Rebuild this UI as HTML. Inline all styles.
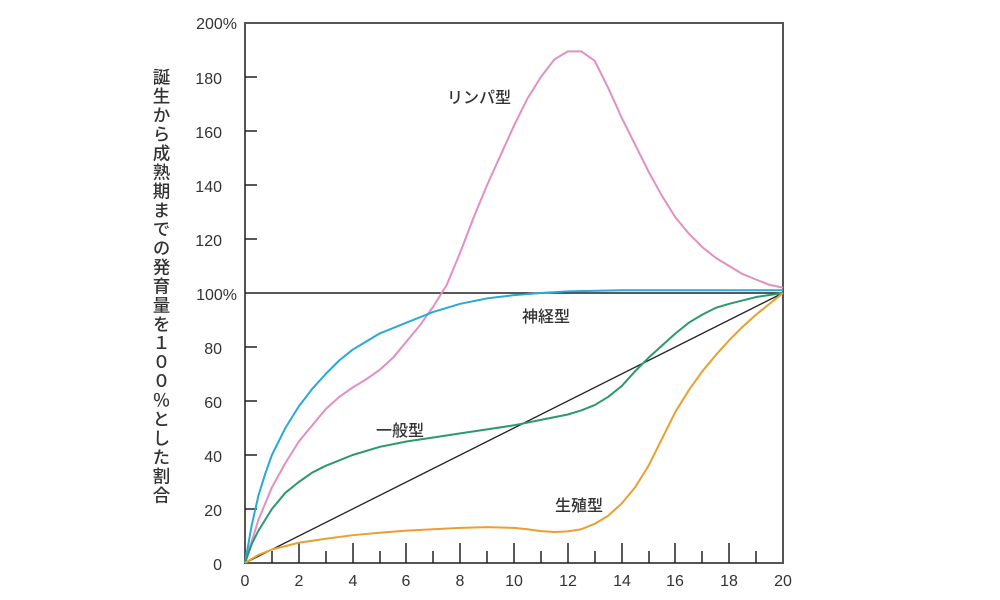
<!DOCTYPE html>
<html><head><meta charset="utf-8"><style>
body{margin:0;background:#fff;width:1000px;height:600px;overflow:hidden;position:relative;font-family:"Liberation Sans","Noto Sans CJK JP",sans-serif;}
svg{position:absolute;left:0;top:0}
.vl{position:absolute;left:151px;top:68px;writing-mode:vertical-rl;font-size:17.5px;line-height:20px;color:#333;letter-spacing:1.5px;font-family:"Noto Sans CJK JP",sans-serif;font-weight:500}
</style></head><body>
<svg width="1000" height="600" font-family="Liberation Sans, Noto Sans CJK JP, sans-serif">
<rect x="245" y="23" width="538" height="540" fill="none" stroke="#555" stroke-width="2"/>
<g stroke="#222" stroke-width="1.5">
<line x1="245" y1="509" x2="257" y2="509"/><line x1="245" y1="455" x2="257" y2="455"/><line x1="245" y1="401" x2="257" y2="401"/><line x1="245" y1="347" x2="257" y2="347"/><line x1="245" y1="239" x2="257" y2="239"/><line x1="245" y1="185" x2="257" y2="185"/><line x1="245" y1="131" x2="257" y2="131"/><line x1="245" y1="77" x2="257" y2="77"/>
</g>
<g stroke="#222" stroke-width="1.5">
<line x1="272" y1="563" x2="272" y2="551"/><line x1="299" y1="563" x2="299" y2="543"/><line x1="326" y1="563" x2="326" y2="551"/><line x1="353" y1="563" x2="353" y2="543"/><line x1="380" y1="563" x2="380" y2="551"/><line x1="406" y1="563" x2="406" y2="543"/><line x1="433" y1="563" x2="433" y2="551"/><line x1="460" y1="563" x2="460" y2="543"/><line x1="487" y1="563" x2="487" y2="551"/><line x1="514" y1="563" x2="514" y2="543"/><line x1="541" y1="563" x2="541" y2="551"/><line x1="568" y1="563" x2="568" y2="543"/><line x1="595" y1="563" x2="595" y2="551"/><line x1="622" y1="563" x2="622" y2="543"/><line x1="649" y1="563" x2="649" y2="551"/><line x1="675" y1="563" x2="675" y2="543"/><line x1="702" y1="563" x2="702" y2="551"/><line x1="729" y1="563" x2="729" y2="543"/><line x1="756" y1="563" x2="756" y2="551"/>
</g>
<line x1="245" y1="293" x2="783" y2="293" stroke="#222" stroke-width="1.5"/>
<g font-size="16" fill="#333" text-anchor="end">
<text x="237" y="29">200%</text><text x="222" y="84">180</text><text x="222" y="138">160</text><text x="222" y="192">140</text><text x="222" y="246">120</text><text x="237" y="300">100%</text><text x="222" y="354">80</text><text x="222" y="408">60</text><text x="222" y="462">40</text><text x="222" y="516">20</text><text x="222" y="570">0</text>
</g>
<g font-size="16" fill="#333" text-anchor="middle">
<text x="245" y="586">0</text><text x="299" y="586">2</text><text x="353" y="586">4</text><text x="406" y="586">6</text><text x="460" y="586">8</text><text x="514" y="586">10</text><text x="568" y="586">12</text><text x="622" y="586">14</text><text x="675" y="586">16</text><text x="729" y="586">18</text><text x="783" y="586">20</text>
</g>
<g transform="translate(245,563) scale(26.9,-2.7)" fill="none" stroke-width="2" stroke-linejoin="round">
<polyline vector-effect="non-scaling-stroke" stroke="#222" stroke-width="1.3" points="0,0 20,100"/>
<polyline vector-effect="non-scaling-stroke" stroke="#e090c4" points="0,0 0.5,16 1,28 1.5,37 2,45 2.5,51 3,57 3.5,61.5 4,65 4.5,68 5,71.5 5.5,76 6,82 6.5,88 7,95 7.5,103 8,115 8.5,128 9,140 9.5,151 10,162 10.5,172 11,180 11.5,186.5 12,189.5 12.5,189.5 13,186 13.5,176 14,165 14.5,155 15,145 15.5,136 16,128 16.5,122 17,117 17.5,113 18,110 18.5,107 19,105 19.5,103 20,102"/>
<polyline vector-effect="non-scaling-stroke" stroke="#2aa8d8" points="0,0 0.25,14 0.5,25 0.75,33 1,40 1.5,50 2,58 2.5,64.5 3,70 3.5,75 4,79 4.5,82 5,85 6,89 7,93 8,96 9,98 10,99.2 11,100 12,100.6 14,101 20,101"/>
<polyline vector-effect="non-scaling-stroke" stroke="#2a9a6a" points="0,0 0.25,7 0.5,12 1,20 1.5,26 2,30 2.5,33.5 3,36 3.5,38 4,40 5,43 6,45 7,46.5 8,48 9,49.5 10,51 11,53 12,55 12.5,56.5 13,58.5 13.5,61.5 14,65.5 14.5,71 15,76 15.5,80.5 16,85 16.5,89 17,92 17.5,94.5 18,96 19,98.5 20,100"/>
<polyline vector-effect="non-scaling-stroke" stroke="#e8a030" points="0,0 0.5,3 1,5 2,7.5 3,9 4,10.3 5,11.2 6,12 7,12.5 8,13 9,13.3 10,13 10.5,12.5 11,11.8 11.5,11.5 12,11.7 12.5,12.5 13,14.5 13.5,17.5 14,22 14.5,28 15,36 15.5,46 16,56 16.5,64 17,71 17.5,77 18,82.5 18.5,87.5 19,92 19.5,96 20,100"/>
</g>
<g font-size="16" fill="#333" font-family="Noto Sans CJK JP, sans-serif" font-weight="500">
<text x="447" y="103">リンパ型</text><text x="522" y="322">神経型</text><text x="376" y="436">一般型</text><text x="555" y="511">生殖型</text>
</g>
</svg>
<div class="vl">誕生から成熟期までの発育量を１００％とした割合</div>
</body></html>
